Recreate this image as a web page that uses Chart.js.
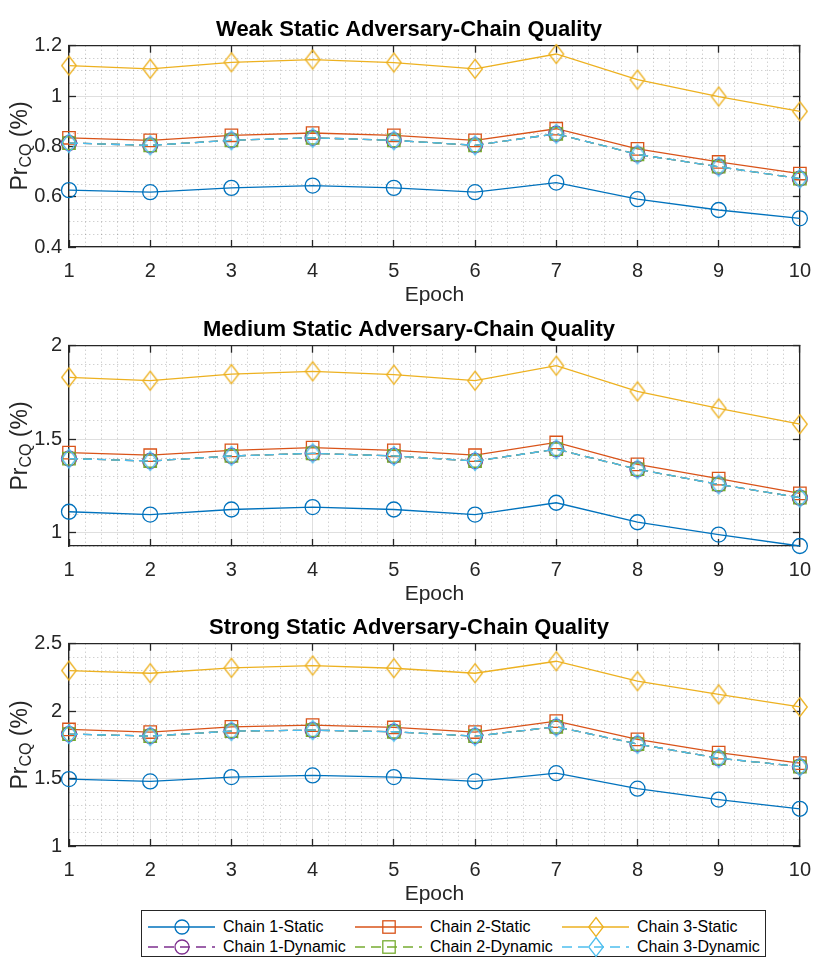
<!DOCTYPE html>
<html>
<head>
<meta charset="utf-8">
<script src="https://cdn.jsdelivr.net/npm/chart.js@4.4.1/dist/chart.umd.min.js"></script>
<style>
  body { margin: 0; background: #fff; width: 830px; height: 961px; position: relative; overflow: hidden;
         font-family: "Liberation Sans", Arial, sans-serif; }
  .panel { position: absolute; left: 0; width: 830px; }
  .ylab { position: absolute; left: 20px; transform: translate(-50%, -50%) rotate(-90deg);
          font-size: 23px; color: #262626; white-space: nowrap; }
  .ylab sub { font-size: 16px; vertical-align: -4px; }
  #legendBox { position: absolute; left: 141px; top: 910px; width: 625px; height: 47px;
               border: 1px solid #262626; box-sizing: border-box; background: #fff; }
  .lgIcon { position: absolute; }
  .lgText { position: absolute; font-size: 16px; color: #000; white-space: nowrap; line-height: 20px; }
</style>
</head>
<body>
<div class="panel" id="p1"><canvas id="c1"></canvas></div>
<div class="panel" id="p2"><canvas id="c2"></canvas></div>
<div class="panel" id="p3"><canvas id="c3"></canvas></div>
<div class="ylab" style="top:146px">Pr<sub>CQ</sub> (%)</div>
<div class="ylab" style="top:446px">Pr<sub>CQ</sub> (%)</div>
<div class="ylab" style="top:745px">Pr<sub>CQ</sub> (%)</div>
<div id="legendBox"></div>
<div id="legend"></div>

<script>
// data
const epochs = [1, 2, 3, 4, 5, 6, 7, 8, 9, 10];
const seriesNames = ["Chain 1-Static", "Chain 2-Static", "Chain 3-Static",
  "Chain 1-Dynamic", "Chain 2-Dynamic", "Chain 3-Dynamic"];

const weakChain1 = [0.626, 0.618, 0.635, 0.644, 0.635, 0.618, 0.656, 0.590, 0.547, 0.514];
const weakChain2 = [0.834, 0.824, 0.844, 0.853, 0.844, 0.824, 0.870, 0.790, 0.738, 0.692];
const weakChain3 = [1.121, 1.108, 1.134, 1.145, 1.133, 1.108, 1.167, 1.065, 0.998, 0.939];
const weakDynamic = [0.813, 0.804, 0.824, 0.834, 0.824, 0.804, 0.850, 0.768, 0.719, 0.672];
const weakTicks = [0.4, 0.6, 0.8, 1, 1.2];

const medChain1 = [1.113, 1.098, 1.125, 1.138, 1.125, 1.098, 1.161, 1.057, 0.991, 0.930];
const medChain2 = [1.429, 1.415, 1.441, 1.456, 1.441, 1.415, 1.483, 1.366, 1.290, 1.211];
const medChain3 = [1.831, 1.813, 1.848, 1.863, 1.845, 1.813, 1.893, 1.756, 1.665, 1.581];
const medDynamic = [1.397, 1.384, 1.411, 1.425, 1.411, 1.384, 1.447, 1.340, 1.259, 1.188];
const medTicks = [1, 1.5, 2];

const strongChain1 = [1.496, 1.479, 1.511, 1.523, 1.511, 1.479, 1.540, 1.425, 1.344, 1.276];
const strongChain2 = [1.864, 1.845, 1.884, 1.896, 1.879, 1.845, 1.926, 1.791, 1.692, 1.614];
const strongChain3 = [2.301, 2.281, 2.321, 2.338, 2.318, 2.281, 2.370, 2.222, 2.124, 2.031];
const strongDynamic = [1.830, 1.815, 1.852, 1.859, 1.847, 1.815, 1.884, 1.756, 1.651, 1.589];
const strongTicks = [1, 1.5, 2, 2.5];

const colors = ["#0072BD", "#D95319", "#EDB120", "#7E2F8E", "#77AC30", "#4DBEEE"];
const axisColor = "#262626";
const FONT = "'Liberation Sans', Arial, sans-serif";

// MATLAB style diamond is a bit taller than wide
function diamond(color) {
  const c = document.createElement("canvas");
  c.width = 18; c.height = 22;
  const g = c.getContext("2d");
  g.strokeStyle = color; g.lineWidth = 1.3;
  g.beginPath();
  g.moveTo(9, 1.5); g.lineTo(16.3, 11); g.lineTo(9, 20.5); g.lineTo(1.7, 11);
  g.closePath(); g.stroke();
  return c;
}

const markers = ["circle", "rect", diamond(colors[2]), "circle", "rect", diamond(colors[5])];
const radii = [7.5, 8.8, 9, 7.5, 8.8, 9];

function isMajorX(v) { return Math.abs(v - Math.round(v)) < 1e-6; }

// minor + major tick positions for the y axis (chart.js drops ticks near a non-round min)
function yTickList(yMin, yMax, step) {
  const list = [];
  const first = Math.ceil(yMin / step - 1e-6) * step;
  const n = Math.round((yMax - first) / step);
  if (first - yMin > 1e-6) list.push({ value: yMin });
  for (let k = 0; k <= n; k++) list.push({ value: +(first + k * step).toFixed(4) });
  return list;
}

function makePanel(id, divId, top, areaH, title, yMin, yMax, yMinor, yMajors, values) {
  const isMajorY = (v) => yMajors.some((m) => Math.abs(m - v) < 1e-6);
  const titleTop = 16.3, titleBottom = 3;
  const xH = 63;
  const H = Math.round(titleTop + 26.4 + titleBottom + areaH + xH);
  const div = document.getElementById(divId);
  div.style.top = top + "px";
  div.style.height = H + "px";
  const cv = document.getElementById(id);
  cv.width = 830; cv.height = H;

  const major = (ctx) => ctx.scale.axis === "x" ? isMajorX(ctx.tick.value) : isMajorY(ctx.tick.value);
  const gridColor = (ctx) => {
    if (!ctx.tick) return "rgba(0,0,0,0)";
    return major(ctx) ? "rgba(38,38,38,0.15)" : "rgba(38,38,38,0.3)";
  };
  const gridDash = (ctx) => {
    if (!ctx.tick) return [];
    return major(ctx) ? [] : [1, 3];
  };
  const tickColor = (ctx) => {
    if (!ctx.tick) return "rgba(0,0,0,0)";
    return major(ctx) ? axisColor : "rgba(0,0,0,0)";
  };
  const border = { display: true, color: axisColor, width: 1.3, dash: gridDash };

  const datasets = values.map((vals, i) => ({
    label: seriesNames[i],
    data: epochs.map((e, k) => ({ x: e, y: vals[k] })),
    borderColor: colors[i],
    borderWidth: 1.3,
    borderDash: i >= 3 ? [9, 5] : [],
    pointStyle: markers[i],
    pointRadius: radii[i],
    pointBorderColor: colors[i],
    pointBackgroundColor: "rgba(0,0,0,0)",
    pointBorderWidth: 1.3,
    tension: 0,
    fill: false,
    clip: false,
    order: 5 - i,
  }));

  new Chart(cv, {
    type: "line",
    data: { datasets: datasets },
    options: {
      responsive: false,
      animation: false,
      events: [],
      layout: { padding: { left: 0, right: 12, top: 0, bottom: 0 } },
      plugins: {
        legend: { display: false },
        tooltip: { enabled: false },
        title: {
          display: true, text: title, color: "#000",
          font: { family: FONT, size: 22, weight: "bold" },
          padding: { top: titleTop, bottom: titleBottom },
        },
      },
      scales: {
        x: {
          type: "linear", position: "bottom", min: 1, max: 10,
          afterFit: (s) => { s.height = xH; },
          ticks: {
            stepSize: 0.2, maxTicksLimit: 1000, autoSkip: false, maxRotation: 0,
            padding: 19, color: axisColor, font: { family: FONT, size: 20 },
            callback: (v) => (isMajorX(v) ? String(Math.round(v)) : ""),
          },
          grid: { color: gridColor, lineWidth: 1, drawTicks: true, tickLength: -7,
                  tickColor: tickColor, tickWidth: 1.3 },
          border: border,
          title: { display: true, text: "Epoch", color: axisColor,
                   font: { family: FONT, size: 21 }, padding: { top: 0, bottom: 2.4 } },
        },
        x2: {
          type: "linear", position: "top", min: 1, max: 10,
          afterFit: (s) => { s.height = 0; },
          ticks: { display: false, stepSize: 1 },
          grid: { drawOnChartArea: false, drawTicks: true, tickLength: -7,
                  tickColor: axisColor, tickWidth: 1.3 },
          border: { display: true, color: axisColor, width: 1.3 },
        },
        y: {
          type: "linear", position: "left", min: yMin, max: yMax,
          afterFit: (s) => { s.width = 69; },
          afterBuildTicks: (s) => { s.ticks = yTickList(yMin, yMax, yMinor); },
          ticks: {
            autoSkip: false,
            padding: 14, color: axisColor, font: { family: FONT, size: 20 },
            callback: (v) => (isMajorY(v) ? String(Math.round(v * 100) / 100) : ""),
          },
          grid: { color: gridColor, lineWidth: 1, drawTicks: true, tickLength: -7,
                  tickColor: tickColor, tickWidth: 1.3 },
          border: border,
        },
        y2: {
          type: "linear", position: "right", min: yMin, max: yMax,
          afterFit: (s) => { s.width = 0; },
          afterBuildTicks: (s) => { s.ticks = yTickList(yMin, yMax, yMinor); },
          ticks: { display: false, autoSkip: false },
          grid: { drawOnChartArea: false, drawTicks: true, tickLength: -7,
                  tickColor: tickColor, tickWidth: 1.3 },
          border: { display: true, color: axisColor, width: 1.3 },
        },
      },
    },
  });
}

makePanel("c1", "p1", 0, 201, "Weak Static Adversary-Chain Quality", 0.4, 1.2, 0.05, weakTicks,
  [weakChain1, weakChain2, weakChain3, weakDynamic, weakDynamic, weakDynamic]);
makePanel("c2", "p2", 300, 200.7, "Medium Static Adversary-Chain Quality", 0.93, 2, 0.1, medTicks,
  [medChain1, medChain2, medChain3, medDynamic, medDynamic, medDynamic]);
makePanel("c3", "p3", 598, 202.7, "Strong Static Adversary-Chain Quality", 1, 2.5, 0.1, strongTicks,
  [strongChain1, strongChain2, strongChain3, strongDynamic, strongDynamic, strongDynamic]);

// legend (line + marker samples like MATLAB)
const legend = document.getElementById("legend");
const colX = [148, 355, 562];
const rowY = [927, 947];
const shapes = ["circle", "square", "diamond"];
seriesNames.forEach((name, i) => {
  const col = i % 3, row = Math.floor(i / 3);
  const x = colX[col], y = rowY[row];
  const c = colors[i];
  const dash = row === 1 ? 'stroke-dasharray="10 6"' : "";
  let mk = "";
  if (shapes[col] === "circle") mk = `<circle cx="34" cy="12" r="7" fill="none" stroke="${c}" stroke-width="1.3"/>`;
  if (shapes[col] === "square") mk = `<rect x="27.8" y="5.8" width="12.4" height="12.4" fill="none" stroke="${c}" stroke-width="1.3"/>`;
  if (shapes[col] === "diamond") mk = `<path d="M34 2.5 L41.3 12 L34 21.5 L26.7 12 Z" fill="none" stroke="${c}" stroke-width="1.3"/>`;
  const icon = document.createElement("div");
  icon.className = "lgIcon";
  icon.style.left = x + "px"; icon.style.top = (y - 12) + "px";
  icon.innerHTML = `<svg width="68" height="24"><line x1="0" y1="12" x2="67" y2="12" stroke="${c}" stroke-width="1.3" ${dash}/>${mk}</svg>`;
  legend.appendChild(icon);
  const t = document.createElement("div");
  t.className = "lgText";
  t.style.left = (x + 75) + "px"; t.style.top = (y - 10) + "px";
  t.textContent = name;
  legend.appendChild(t);
});
</script>
</body>
</html>
